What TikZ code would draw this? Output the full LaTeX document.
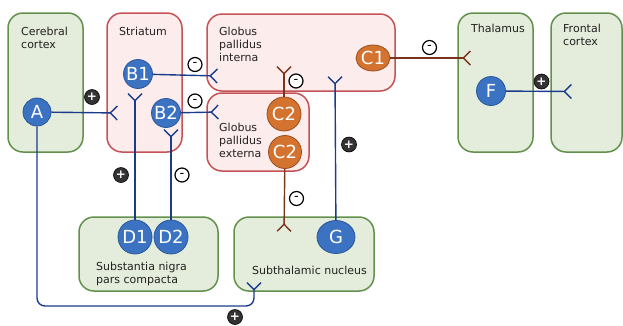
\documentclass[tikz,border=0pt]{standalone}
\usepackage{fontspec}
\setmainfont{DejaVu Sans}
\usetikzlibrary{arrows.meta, shapes.geometric}
\definecolor{greenfill}{HTML}{E4ECDB}
\definecolor{greenline}{HTML}{62904D}
\definecolor{redfill}{HTML}{FDECEC}
\definecolor{redline}{HTML}{C45256}
\definecolor{cellblue}{HTML}{3B72C2}
\definecolor{cellblueline}{HTML}{2C5899}
\definecolor{cellorange}{HTML}{D4732F}
\definecolor{cellorangeline}{HTML}{9A4E1E}
\definecolor{axonblue}{HTML}{1B3C8A}
\definecolor{axonbrown}{HTML}{7B341C}
\definecolor{textgray}{HTML}{222222}
\definecolor{badgedark}{HTML}{333333}

\begin{document}
\begin{tikzpicture} [x = 1pt, y = -1pt,
  region/.style = {rounded corners = 15pt, line width = 1.5pt, inner sep = 0pt},
  gbox/.style = {region, draw = greenline, fill = greenfill},
  rbox/.style = {region, draw = redline, fill = redfill},
  lbl/.style = {anchor = north west, align = left, inner sep = 0pt, text = textgray, font = \fontsize{11}{13}\selectfont},
  cell/.style = {line width = 0.8pt, text = white, inner sep = 0pt, font = \fontsize{18}{18}\selectfont},
  bcell/.style = {cell, circle, draw = cellblueline, fill = cellblue},
  ocell/.style = {cell, circle, draw = cellorangeline, fill = cellorange},
  axon/.style = {line width = 1.4pt, -{Straight Barb[reversed, length = 7pt, width = 14pt]}},
  bax/.style = {axon, draw = axonblue},
  oax/.style = {axon, draw = axonbrown},
  plus/.style = {circle, fill = badgedark, draw = black, line width = 0.6pt, text = white, inner sep = 0pt, minimum size = 15pt, font = \fontsize{12}{12}\selectfont\bfseries},
  minus/.style = {circle, fill = white, draw = black, line width = 1.2pt, inner sep = 0pt, minimum size = 14pt, font = \fontsize{13}{13}\selectfont}]
\clip (0,0) rectangle (623,325);
\useasboundingbox (0,0) rectangle (623,325);

\node[gbox, minimum width = 75pt, minimum height = 139pt] (cortex) at (45.5,82.5) {};
\node[rbox, minimum width = 75pt, minimum height = 139pt] (striatum) at (144.5,82.5) {};
\node[rbox, minimum width = 188pt, minimum height = 77pt] (gpi) at (301,52.5) {};
\node[rbox, minimum width = 102pt, minimum height = 78pt] (gpe) at (258,132) {};
\node[gbox, minimum width = 75pt, minimum height = 139pt] (thalamus) at (495.5,82.5) {};
\node[gbox, minimum width = 71pt, minimum height = 139pt] (frontal) at (586.5,82.5) {};
\node[gbox, minimum width = 139pt, minimum height = 74pt] (snc) at (148.5,254) {};
\node[gbox, minimum width = 140pt, minimum height = 74pt] (stn) at (304,254) {};

\node[lbl] (cortexlbl) at (21,27) {Cerebral\\cortex};
\node[lbl] (striatumlbl) at (119,27) {Striatum};
\node[lbl] (gpilbl) at (219,27) {Globus\\pallidus\\interna};
\node[lbl] (gpelbl) at (219,123) {Globus\\pallidus\\externa};
\node[lbl] (thalamuslbl) at (471,24) {Thalamus};
\node[lbl] (frontallbl) at (563,24) {Frontal\\cortex};
\node[lbl] (snclbl) at (96,262) {Substantia nigra\\pars compacta};
\node[lbl] (stnlbl) at (252,266) {Subthalamic nucleus};

\node[bcell, minimum size = 28pt] (A) at (37,112) {A};
\node[bcell, minimum size = 29pt] (B1) at (138,74) {B1};
\node[bcell, minimum size = 29pt] (B2) at (166,113) {B2};
\node[ocell, minimum size = 34pt] (C2a) at (284,114) {C2};
\node[ocell, minimum size = 33pt] (C2b) at (285,152) {C2};
\node[ocell, ellipse, minimum width = 32pt, minimum height = 26pt] (C1) at (373,58) {C1};
\node[bcell, minimum size = 29pt] (F) at (491,91) {F};
\node[bcell, minimum size = 34pt] (D1) at (135,237) {D1};
\node[bcell, minimum size = 34pt] (D2) at (171,237) {D2};
\node[bcell, ellipse, minimum width = 38pt, minimum height = 33pt] (G) at (336,237) {G};

\coordinate (tA) at (118,113);
\coordinate (tB1) at (218,76);
\coordinate (tB2) at (219,112);
\coordinate (tD1) at (135,93);
\coordinate (tD2) at (171,129);
\coordinate (tC2a) at (284,66);
\coordinate (tC2b) at (284,232);
\coordinate (tG) at (335,76);
\coordinate (tC1) at (471,58);
\coordinate (tF) at (572,91.5);
\coordinate (tSTN) at (254,282);

\draw[bax] (A) -- (tA);
\draw[bax] (B1) -- (tB1);
\draw[bax] (B2) -- (tB2);
\draw[bax] (D1) -- (tD1);
\draw[bax] (D2) -- (tD2);
\draw[oax] (C2a) -- (tC2a);
\draw[oax] (C2b) -- (tC2b);
\draw[bax] (G) -- (tG);
\draw[oax] (C1) -- (tC1);
\draw[bax] (F) -- (tF);
\draw[bax, rounded corners = 8pt] (A) -- (37,306) -- (254,306) -- (tSTN);

\node[plus] (pA) at (92,97) {+};
\node[minus] (mB1) at (195,64.5) {-};
\node[minus] (mB2) at (195,101) {-};
\node[plus] (pD1) at (121,175) {+};
\node[minus] (mD2) at (182,175) {-};
\node[minus] (mC2a) at (296,81) {-};
\node[minus] (mC2b) at (296.5,198.5) {-};
\node[plus] (pG) at (349,144.5) {+};
\node[minus] (mC1) at (429.5,47.5) {-};
\node[plus] (pF) at (541.5,81.5) {+};
\node[plus] (pSTN) at (235,317) {+};
\end{tikzpicture}
\end{document}
